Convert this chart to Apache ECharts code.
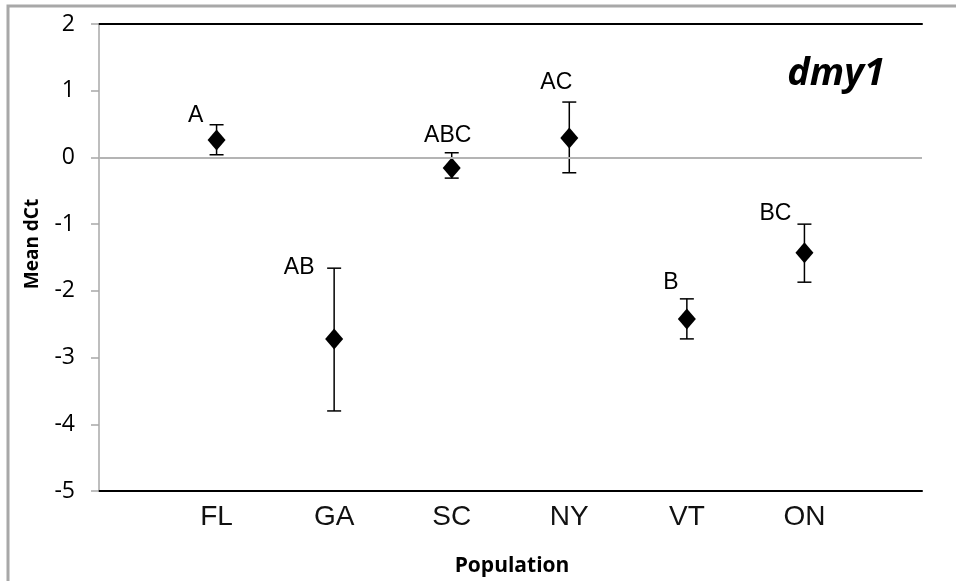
<!DOCTYPE html>
<html>
<head>
<meta charset="utf-8">
<script src="https://cdn.jsdelivr.net/npm/echarts@6/dist/echarts.min.js"></script>
<style>
  html, body { margin: 0; padding: 0; background: #fff; }
  #chart { width: 956px; height: 581px; }
</style>
</head>
<body>
<div id="chart"></div>
<script>
// populations and mean dCt with error bar ends
var categories = ['FL', 'GA', 'SC', 'NY', 'VT', 'ON'];
var means = [0.26, -2.72, -0.16, 0.29, -2.42, -1.43];
var upper = [0.49, -1.66, 0.07, 0.83, -2.12, -1.00];
var lower = [0.04, -3.80, -0.31, -0.23, -2.72, -1.87];
var groups = ['A', 'AB', 'ABC', 'AC', 'B', 'BC'];
var yTicks = [-5, -4, -3, -2, -1, 0, 1, 2];

// label nudges in px relative to the top cap (layout only)
var labelNudge = [[-21, -9], [-35, -1], [-4, -17], [-13, -19], [-16, -16], [-29, -10]];

var points = [];
var bars = [];
for (var i = 0; i < categories.length; i++) {
    points.push([i + 1, means[i]]);
    bars.push([i + 1, lower[i], upper[i], i]);
}

var myChart = echarts.init(document.getElementById('chart'));

var option = {
    backgroundColor: '#fff',
    animation: false,
    grid: {
        left: 99,
        right: 34,
        top: 24,
        bottom: 90
    },
    graphic: [
        {
            type: 'polyline',
            shape: { points: [[8, 590], [8, 6], [970, 6]] },
            style: { stroke: '#a8a8a8', lineWidth: 3, fill: null }
        },
        {
            type: 'text',
            x: 33,
            y: 244,
            rotation: Math.PI / 2,
            style: {
                text: 'Mean dCt',
                font: 'bold 19px "Open Sans"',
                fill: '#000',
                align: 'center',
                verticalAlign: 'middle'
            }
        },
        {
            type: 'text',
            x: 836,
            y: 74,
            style: {
                text: 'dmy1',
                font: 'italic bold 38px "Open Sans"',
                fill: '#000',
                align: 'center',
                verticalAlign: 'middle'
            }
        },
        {
            type: 'text',
            x: 512,
            y: 566,
            style: {
                text: 'Population',
                font: 'bold 21px "Open Sans"',
                fill: '#000',
                align: 'center',
                verticalAlign: 'middle'
            }
        }
    ],
    xAxis: [
        {
            type: 'value',
            position: 'bottom',
            min: 0,
            max: categories.length + 1,
            interval: 1,
            axisLine: { onZero: false, lineStyle: { color: '#000', width: 2 } },
            axisTick: { show: false },
            splitLine: { show: false },
            axisLabel: {
                margin: 12,
                fontSize: 28,
                fontFamily: '"Liberation Sans", Arial, sans-serif',
                color: '#111',
                formatter: function (v) {
                    return categories[v - 1] || '';
                }
            }
        },
        {
            type: 'value',
            position: 'top',
            min: 0,
            max: categories.length + 1,
            axisLine: { onZero: false, lineStyle: { color: '#000', width: 2 } },
            axisTick: { show: false },
            splitLine: { show: false },
            axisLabel: { show: false }
        }
    ],
    yAxis: {
        type: 'value',
        min: yTicks[0],
        max: yTicks[yTicks.length - 1],
        interval: 1,
        axisLine: { show: true, lineStyle: { color: '#a8a8a8', width: 1.5 } },
        axisTick: { show: true, inside: false, length: 8, lineStyle: { color: '#a8a8a8', width: 1.5 } },
        splitLine: { show: false },
        axisLabel: {
            margin: 24,
            fontSize: 23,
            fontFamily: '"Open Sans", sans-serif',
            color: '#000'
        }
    },
    series: [
        {
            type: 'custom',
            renderItem: function (params, api) {
                var x = api.value(0);
                var lo = api.coord([x, api.value(1)]);
                var hi = api.coord([x, api.value(2)]);
                var idx = api.value(3);
                var cap = 7;
                var style = { stroke: '#000', lineWidth: 1.5 };
                var nudge = labelNudge[idx];
                return {
                    type: 'group',
                    children: [
                        { type: 'line', shape: { x1: hi[0], y1: hi[1], x2: lo[0], y2: lo[1] }, style: style },
                        { type: 'line', shape: { x1: hi[0] - cap, y1: hi[1], x2: hi[0] + cap, y2: hi[1] }, style: style },
                        { type: 'line', shape: { x1: lo[0] - cap, y1: lo[1], x2: lo[0] + cap, y2: lo[1] }, style: style },
                        {
                            type: 'text',
                            x: hi[0] + nudge[0],
                            y: hi[1] + nudge[1],
                            style: {
                                text: groups[idx],
                                font: '23px "Liberation Sans", Arial, sans-serif',
                                fill: '#000',
                                align: 'center',
                                verticalAlign: 'middle'
                            }
                        }
                    ]
                };
            },
            data: bars,
            z: 3
        },
        {
            type: 'scatter',
            symbol: 'diamond',
            symbolSize: [18, 21],
            itemStyle: { color: '#000', opacity: 1 },
            data: points,
            z: 4,
            markLine: {
                silent: true,
                symbol: 'none',
                label: { show: false },
                lineStyle: { color: '#b4b4b4', width: 2, type: 'solid' },
                data: [{ yAxis: 0 }]
            }
        }
    ]
};

myChart.setOption(option);
</script>
</body>
</html>
